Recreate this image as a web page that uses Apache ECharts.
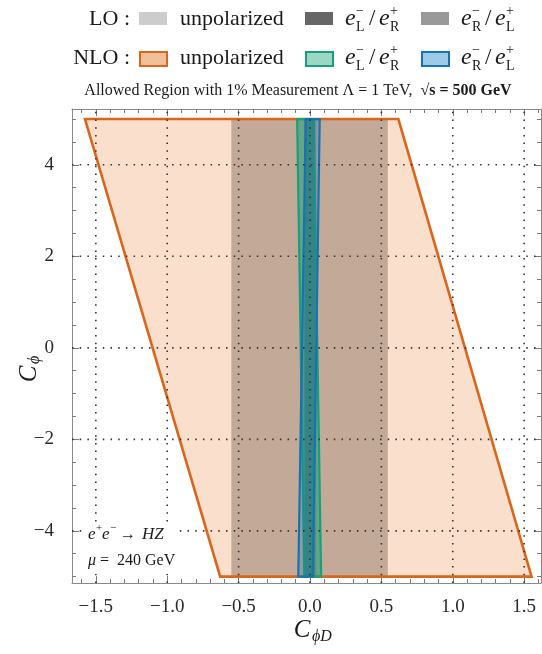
<!DOCTYPE html>
<html>
<head>
<meta charset="utf-8">
<script src="https://cdn.jsdelivr.net/npm/echarts@6/dist/echarts.min.js"></script>
<style>html,body{margin:0;padding:0;background:#fff;}#c{width:542px;height:654px;}</style>
</head>
<body>
<div id="c"></div>
<script>
// ---- data ----
const X_MIN = -1.667, X_MAX = 1.618;
const Y_MIN = -5.14, Y_MAX = 5.22;
const xMajorTicks = [-1.5, -1.0, -0.5, 0.0, 0.5, 1.0, 1.5];
const xMinorTicks = [-1.6, -1.4, -1.3, -1.2, -1.1, -0.9, -0.8, -0.7, -0.6, -0.4, -0.3, -0.2, -0.1,
                     0.1, 0.2, 0.3, 0.4, 0.6, 0.7, 0.8, 0.9, 1.1, 1.2, 1.3, 1.4, 1.6];
const yMajorTicks = [-4, -2, 0, 2, 4];
const yMinorTicks = [-5, -4.5, -3.5, -3, -2.5, -1.5, -1, -0.5, 0.5, 1, 1.5, 2.5, 3, 3.5, 4.5, 5];

// NLO unpolarized (orange parallelogram)
const nloUnpolX = [-1.576, 0.619, 1.552, -0.629];
const nloUnpolY = [5, 5, -5, -5];
// LO unpolarized (grey band)
const loUnpolX = [-0.551, 0.545, 0.545, -0.551];
const loUnpolY = [5, 5, -5, -5];
// LO polarized bands
const loLRX = [-0.040, 0.035, 0.035, -0.040];
const loLRY = [5, 5, -5, -5];
const loRLX = [-0.030, 0.045, 0.045, -0.030];
const loRLY = [5, 5, -5, -5];
// NLO polarized
const nloLRX = [-0.090, 0.025, 0.078, -0.040];
const nloLRY = [5, 5, -5, -5];
const nloRLX = [-0.030, 0.068, 0.020, -0.082];
const nloRLY = [5, 5, -5, -5];

const SERIF = "'Liberation Serif', 'DejaVu Serif', serif";

function polySeries(xs, ys, style, z) {
  return {
    type: 'custom', coordinateSystem: 'cartesian2d', xAxisIndex: 0, yAxisIndex: 0,
    silent: true, z: z, clip: false,
    data: xs.map((x, i) => [x, ys[i]]),
    renderItem: function (params, api) {
      if (params.dataIndex !== 0) return null;
      const pts = xs.map((x, i) => api.coord([x, ys[i]]));
      return { type: 'polygon', shape: { points: pts }, style: style };
    }
  };
}

function gridSeries(vals, vertical) {
  return {
    type: 'custom', coordinateSystem: 'cartesian2d', xAxisIndex: 0, yAxisIndex: 0,
    silent: true, z: 20,
    data: vals.map(v => vertical ? [v, 0] : [0, v]),
    renderItem: function (params, api) {
      let p1, p2;
      if (vertical) {
        const v = api.value(0);
        p1 = api.coord([v, Y_MIN]); p2 = api.coord([v, Y_MAX]);
      } else {
        const v = api.value(1);
        p1 = api.coord([X_MIN, v]); p2 = api.coord([X_MAX, v]);
      }
      return { type: 'line', shape: { x1: p1[0], y1: p1[1], x2: p2[0], y2: p2[1] },
        style: { stroke: '#333333', lineWidth: 1.6, lineDash: [1.5, 6.2] } };
    }
  };
}

const fmtX = v => (Math.abs(v) < 1e-9 ? '0.0' : v.toFixed(1)).replace('-', '\u2212');
const fmtY = v => String(Math.round(v)).replace('-', '\u2212');

function xAx(pos, ticks, len, labels, showLine) {
  return {
    type: 'value', position: pos, min: X_MIN, max: X_MAX, gridIndex: 0,
    axisLine: { show: showLine, onZero: false, lineStyle: { color: '#8a8a8a', width: 1 } },
    axisTick: { show: true, inside: true, length: len, customValues: ticks, lineStyle: { color: '#7a7a7a', width: 1 } },
    axisLabel: labels ? { show: true, customValues: ticks, formatter: fmtX, margin: 15,
      fontFamily: SERIF, fontSize: 19, color: '#2a2a2a' } : { show: false },
    splitLine: { show: false }
  };
}
function yAx(pos, ticks, len, labels, showLine) {
  return {
    type: 'value', position: pos, min: Y_MIN, max: Y_MAX, gridIndex: 0,
    axisLine: { show: showLine, onZero: false, lineStyle: { color: '#8a8a8a', width: 1 } },
    axisTick: { show: true, inside: true, length: len, customValues: ticks, lineStyle: { color: '#7a7a7a', width: 1 } },
    axisLabel: labels ? { show: true, customValues: ticks, formatter: fmtY, margin: 18,
      fontFamily: SERIF, fontSize: 19, color: '#2a2a2a' } : { show: false },
    splitLine: { show: false }
  };
}

// ---- text helpers (graphic) ----
function txt(x, y, s, size, opts) {
  opts = opts || {};
  return { type: 'text', x: x, y: y, silent: true, z: 100,
    style: { text: s, font: (opts.italic ? 'italic ' : '') + (opts.bold ? 'bold ' : '') + size + 'px ' + SERIF,
      fill: opts.color || '#1a1a1a', align: opts.align || 'left', verticalAlign: 'middle' } };
}
function eLabel(x, y, sub1, sup1, sub2, sup2) {
  return [
    txt(x, y, 'e', 24, { italic: true }),
    txt(x + 11, y - 8, sup1, 14),
    txt(x + 11, y + 8, sub1, 14),
    txt(x + 24, y, '/', 23),
    txt(x + 34, y, 'e', 24, { italic: true }),
    txt(x + 45, y - 8, sup2, 14),
    txt(x + 45, y + 8, sub2, 14)
  ];
}

const graphics = [];
// Legend row 1
const r1 = 19, r2 = 58;
graphics.push(txt(130, r1, 'LO :', 22, { align: 'right' }));
graphics.push({ type: 'rect', shape: { x: 139, y: 12, width: 28, height: 13 }, style: { fill: '#cccccc' }, z: 100 });
graphics.push(txt(180, r1, 'unpolarized', 22));
graphics.push({ type: 'rect', shape: { x: 305, y: 12, width: 28, height: 13 }, style: { fill: '#666666' }, z: 100 });
graphics.push(...eLabel(345, r1, 'L', '\u2212', 'R', '+'));
graphics.push({ type: 'rect', shape: { x: 421, y: 12, width: 28, height: 13 }, style: { fill: '#999999' }, z: 100 });
graphics.push(...eLabel(461, r1, 'R', '\u2212', 'L', '+'));
// Legend row 2
graphics.push(txt(130, r2, 'NLO :', 22, { align: 'right' }));
graphics.push({ type: 'rect', shape: { x: 140, y: 52, width: 27, height: 14 }, style: { fill: '#f1bf99', stroke: '#d9661a', lineWidth: 2 }, z: 100 });
graphics.push(txt(180, r2, 'unpolarized', 22));
graphics.push({ type: 'rect', shape: { x: 306, y: 52, width: 27, height: 14 }, style: { fill: '#9ad8c4', stroke: '#17a07a', lineWidth: 2 }, z: 100 });
graphics.push(...eLabel(345, r2, 'L', '\u2212', 'R', '+'));
graphics.push({ type: 'rect', shape: { x: 422, y: 52, width: 27, height: 14 }, style: { fill: '#9ccbe6', stroke: '#1573b5', lineWidth: 2 }, z: 100 });
graphics.push(...eLabel(461, r2, 'R', '\u2212', 'L', '+'));
// Title
graphics.push({ type: 'text', x: 298, y: 91, silent: true, z: 100,
  style: { text: '{n|Allowed Region with 1% Measurement \u039B = 1 TeV,  \u221A}{b|s = 500 GeV}',
    align: 'center', verticalAlign: 'middle',
    rich: { n: { fontFamily: SERIF, fontSize: 16, fill: '#1a1a1a' },
            b: { fontFamily: SERIF, fontSize: 16, fontWeight: 'bold', fill: '#1a1a1a' } } } });
// Axis titles
graphics.push(txt(302, 630, 'C', 25, { italic: true, align: 'center' }));
graphics.push(txt(312, 637, '\u03D5D', 16, { italic: true }));
graphics.push({ type: 'group', x: 29, y: 370, rotation: Math.PI / 2, silent: true, z: 100,
  children: [
    { type: 'text', x: -4, y: 0, style: { text: 'C', font: 'italic 25px ' + SERIF, fill: '#1a1a1a', align: 'center', verticalAlign: 'middle' } },
    { type: 'text', x: 6, y: 6, style: { text: '\u03D5', font: 'italic 16px ' + SERIF, fill: '#1a1a1a', align: 'left', verticalAlign: 'middle' } }
  ] });
// Annotations (white boxes hide the dotted grid behind them)
graphics.push({ type: 'rect', shape: { x: 84, y: 522, width: 90, height: 52 }, style: { fill: '#ffffff' }, z: 90, silent: true });
graphics.push(txt(88, 535, 'e', 17, { italic: true }));
graphics.push(txt(96, 528, '+', 11));
graphics.push(txt(102, 535, 'e', 17, { italic: true }));
graphics.push(txt(110, 528, '\u2212', 11));
graphics.push(txt(120, 535, '\u2192', 16));
graphics.push(txt(142, 535, 'HZ', 17, { italic: true }));
graphics.push({ type: 'text', x: 88, y: 561, silent: true, z: 100,
  style: { text: '{i|\u03BC}{n| =  240 GeV}', verticalAlign: 'middle',
    rich: { i: { fontFamily: SERIF, fontStyle: 'italic', fontSize: 16, fill: '#1a1a1a' },
            n: { fontFamily: SERIF, fontSize: 16, fill: '#1a1a1a' } } } });

const option = {
  animation: false,
  backgroundColor: '#ffffff',
  grid: { left: 72, right: 1, top: 109, bottom: 71, containLabel: false },
  xAxis: [
    xAx('bottom', xMajorTicks, 7, true, true),
    xAx('bottom', xMinorTicks, 4, false, false),
    xAx('top', xMajorTicks, 7, false, true),
    xAx('top', xMinorTicks, 4, false, false)
  ],
  yAxis: [
    yAx('left', yMajorTicks, 7, true, true),
    yAx('left', yMinorTicks, 4, false, false),
    yAx('right', yMajorTicks, 7, false, true),
    yAx('right', yMinorTicks, 4, false, false)
  ],
  series: [
    polySeries(nloUnpolX, nloUnpolY, { fill: '#f9dfcc', stroke: null }, 1),
    polySeries(loUnpolX, loUnpolY, { fill: '#c3a998', stroke: null }, 2),
    polySeries(nloUnpolX, nloUnpolY, { fill: 'none', stroke: '#d9661a', lineWidth: 2.6, lineJoin: 'miter' }, 3),
    polySeries(loLRX, loLRY, { fill: 'rgba(70,70,70,0.55)', stroke: null }, 4),
    polySeries(loRLX, loRLY, { fill: 'rgba(110,110,110,0.45)', stroke: null }, 5),
    polySeries(nloLRX, nloLRY, { fill: 'rgba(26,160,122,0.55)', stroke: '#17a07a', lineWidth: 2.2 }, 6),
    polySeries(nloRLX, nloRLY, { fill: 'rgba(21,115,181,0.28)', stroke: '#1573b5', lineWidth: 2.2 }, 7),
    gridSeries(xMajorTicks, true),
    gridSeries(yMajorTicks, false)
  ],
  graphic: graphics
};

const chart = echarts.init(document.getElementById('c'), null, { renderer: 'canvas' });
chart.setOption(option);
</script>
</body>
</html>
